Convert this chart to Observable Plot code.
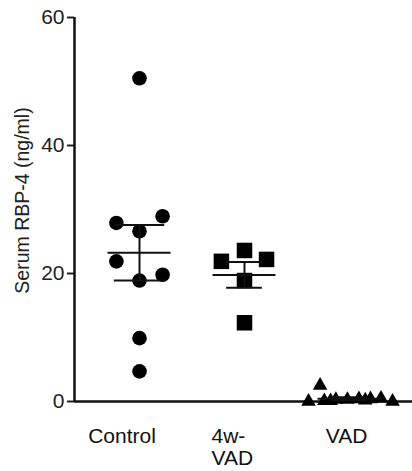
<!DOCTYPE html>
<html><head><meta charset="utf-8">
<script src="https://cdn.jsdelivr.net/npm/d3@7"></script>
<script src="https://cdn.jsdelivr.net/npm/@observablehq/plot@0.6"></script>
<style>body{margin:0;background:#fff}</style>
</head><body><div id="chart"></div>
<script>
// Categories and labels
const groups = ["Control", "4w-VAD", "VAD"];
const groupLabels = ["Control", "4w-\nVAD", "VAD"];
// Values (ng/ml) with horizontal scatter offsets (in group units)
const controlValues = [50.5, 27.9, 28.95, 26.6, 21.9, 19.8, 18.9, 9.9, 4.7];
const controlJitter = [0, -0.22, 0.22, 0, -0.22, 0.22, 0, 0, 0];
const w4Values = [21.9, 23.6, 22.2, 18.9, 12.3];
const w4Jitter = [-0.22, 0, 0.21, 0, 0];
const vadValues = [0, 2.5, 0.1, 0.3, 0.3, 0.4, 0.4, 0.5, 0, 0.1, 0.2];
const vadJitter = [-0.39, -0.28, -0.24, -0.13, -0.02, 0.09, 0.2, 0.3, 0.41, -0.18, 0.15];
const yTicks = [0, 20, 40, 60];
const yLabel = "Serum RBP-4 (ng/ml)";

const seriesValues = [controlValues, w4Values, vadValues];
const seriesJitter = [controlJitter, w4Jitter, vadJitter];
const points = seriesValues.map((vals, i) => vals.map((v, j) => ({group: groups[i], x: i + 1 + seriesJitter[i][j], y: v})));
const semHalf = [0.24, 0.17, 0.17];
const stats = seriesValues.map((vals, i) => {
  const m = d3.mean(vals), se = d3.deviation(vals) / Math.sqrt(vals.length);
  return {x: i + 1, mean: m, lo: m - se, hi: m + se, h: semHalf[i]};
});

const ink = "#111";
const xDomain = [0.381, 3.6];
const labelDx = [-17.5, -33, -3];
const labelAnchor = ["middle", "start", "middle"];

const chart = Plot.plot({
  width: 412, height: 471,
  marginLeft: 74, marginRight: 0, marginTop: 17, marginBottom: 70,
  style: {fontFamily: "'Liberation Sans', Arial, Helvetica, sans-serif", background: "#fff", overflow: "visible"},
  x: {domain: xDomain, axis: null},
  y: {domain: [0, 60], axis: null},
  marks: [
    Plot.axisY({ticks: yTicks, tickSize: 7, tickPadding: 3, fontSize: 21, color: "#222", strokeWidth: 2, label: null}),
    Plot.text([yLabel], {frameAnchor: "left", rotate: -90, dx: -59, dy: -9, lineAnchor: "top", textAnchor: "middle", fontSize: 19.5, fill: "#222"}),
    Plot.ruleY([0], {stroke: ink, strokeWidth: 2.5}),
    Plot.ruleX([xDomain[0]], {y1: 0, y2: 60, stroke: ink, strokeWidth: 2.5}),
    Plot.dot(points[0], {x: "x", y: "y", symbol: "circle", r: 7.3, fill: "#000"}),
    Plot.dot(points[1], {x: "x", y: "y", symbol: "square", r: 8.75, fill: "#000"}),
    Plot.dot(points[2], {x: "x", y: "y", symbol: "triangle", r: 5.4, fill: "#000"}),
    Plot.ruleY(stats, {y: "mean", x1: d => d.x - 0.3, x2: d => d.x + 0.3, stroke: ink, strokeWidth: 2}),
    Plot.ruleY(stats, {y: "hi", x1: d => d.x - d.h, x2: d => d.x + d.h, stroke: ink, strokeWidth: 2}),
    Plot.ruleY(stats, {y: "lo", x1: d => d.x - d.h, x2: d => d.x + d.h, stroke: ink, strokeWidth: 2}),
    Plot.ruleX(stats, {x: "x", y1: "lo", y2: "hi", stroke: ink, strokeWidth: 2}),
    ...groups.map((g, i) => Plot.text([groupLabels[i]], {x: () => i + 1, y: () => 0, dx: labelDx[i], dy: 25.7, lineAnchor: "top", lineHeight: 1.06, textAnchor: labelAnchor[i], fontSize: 21, fill: "#111"}))
  ]
});
document.getElementById("chart").append(chart);
</script>
</body></html>
